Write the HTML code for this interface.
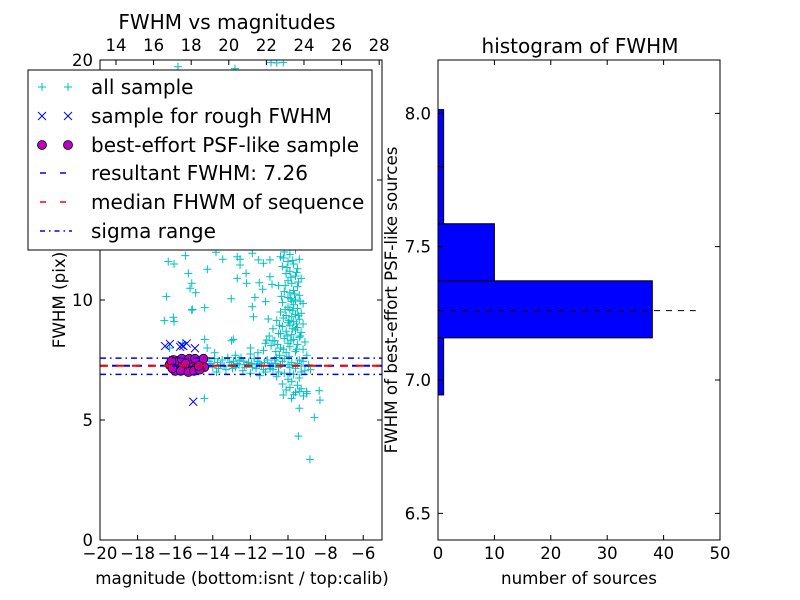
<!DOCTYPE html>
<html><head><meta charset="utf-8"><style>
body{margin:0;background:#fff;}
svg{display:block;font-family:"DejaVu Sans","Liberation Sans",sans-serif;}
</style></head><body>
<svg id="fig" width="800" height="600" viewBox="0 0 800 600">
<rect width="800" height="600" fill="#fff"/>
<g id="left"></g>
<g id="right"></g>
</svg>
<script>
const allSample=[[-16.37,11.6],[-16.06,11.5],[-15.46,11.85],[-13.83,11.99],[-13.47,11.7],[-16.47,10.14],[-15.3,11.11],[-15.12,10.7],[-15.21,10.49],[-14.91,10.3],[-14.29,11.28],[-15.09,9.61],[-14.43,9.68],[-16.58,9.14],[-16.1,9.28],[-16.06,9.1],[-13.02,10.05],[-12.7,10.9],[-12.23,11.11],[-12.2,10.7],[-12.55,11.46],[-11.76,10.11],[-11.9,9.72],[-11.53,10.72],[-11.35,10.45],[-10.96,10.97],[-10.85,10.65],[-11.19,9.93],[-11.05,9.21],[-12.91,8.36],[-14.43,8.36],[-11.13,8.33],[-11.84,9.3],[-12.55,11.7],[-11.58,11.67],[-11.31,11.53],[-10.96,11.67],[-15.12,9.58],[-12.7,11.8],[-11.9,11.95],
[-15.85,19.72],[-12.82,19.64],[-10.9,19.9],[-10.6,19.88],[-10.25,19.9],
[-10.2,12.0],[-9.9,11.9],[-9.6,12.1],[-10.4,11.8],[-9.4,11.7],[-10.0,11.6],[-9.7,11.5],[-10.3,11.4],[-9.5,11.3],[-9.9,11.2],[-10.1,11.1],[-9.6,11.0],[-9.3,10.9],[-10.0,10.8],[-9.8,10.7],[-10.5,10.6],[-9.5,10.55],[-9.7,10.4],[-10.2,10.35],[-9.9,10.3],[-9.4,10.2],[-10.0,10.1],[-9.6,10.0],[-9.8,9.95],[-10.3,9.9],[-9.2,9.85],[-9.7,9.8],[-10.0,9.7],[-9.5,9.65],[-9.9,9.6],[-10.4,9.5],[-9.3,9.45],[-9.6,9.4],[-10.1,9.35],[-9.8,9.3],[-9.4,9.2],[-10.6,9.15],[-9.7,9.1],[-10.0,9.05],[-9.2,9.0],[-9.9,8.95],[-10.3,8.9],[-9.5,8.85],[-10.8,8.8],[-9.6,8.75],[-10.1,8.7],[-9.3,8.65],[-10.5,8.6],[-9.8,8.55],[-11.0,8.5],[-9.4,8.45],[-10.2,8.4],[-9.7,8.35],[-10.7,8.3],[-9.1,8.25],[-10.0,8.2],[-9.5,8.15],[-10.9,8.1],[-9.9,8.05],[-10.4,8.0],[-9.2,7.95],[-11.3,7.9],[-9.6,7.85],[-10.1,7.8],[-12.0,7.75],[-9.0,7.7],[-10.6,7.6],[-11.8,7.55],[-9.4,7.5],[-12.6,7.5],[-10.3,7.45],[-13.1,7.4],[-9.8,7.4],[-11.5,7.35],[-12.2,7.3],[-13.6,7.3],[-10.0,7.3],[-9.3,7.25],[-11.0,7.25],[-12.8,7.2],[-14.0,7.2],[-10.5,7.2],[-9.6,7.15],[-11.7,7.15],[-13.3,7.1],[-10.8,7.1],[-12.4,7.05],[-9.1,7.05],[-11.2,7.0],[-13.8,7.0],[-10.2,6.95],[-12.0,6.95],[-9.7,6.9],[-11.5,6.85],[-10.6,6.8],[-9.4,6.75],[-10.0,6.7],[-9.8,6.6],[-10.3,6.5],[-9.5,6.45],[-9.9,6.35],[-9.3,6.3],[-10.1,6.25],[-9.6,6.15],[-9.0,6.1],[-9.7,6.05],[-9.4,6.2],
[-14.4,7.6],[-14.2,7.45],[-13.9,7.55],[-13.5,7.5],[-13.2,7.6],[-12.9,7.45],[-12.5,7.6],[-12.1,7.4],[-11.9,7.2],[-11.6,7.45],[-11.3,7.1],[-11.1,7.5],[-10.9,7.35],[-10.7,7.5],[-10.4,7.3],[-10.2,7.55],[-9.9,7.2],[-9.5,7.35],[-9.2,7.45],[-8.9,7.3],[-8.8,7.1],[-14.1,7.35],[-13.7,7.15],[-13.0,7.3],[-12.7,7.35],[-12.3,7.2],[-11.4,7.25],[-10.8,7.25],[-14.3,8.0],[-13.0,8.3],[-12.0,8.0],[-11.2,8.2],[-10.4,8.6],[-10.8,8.3],
[-13.75,7.4],[-13.4,7.25],[-12.95,7.15],[-12.6,7.3],[-12.35,7.45],[-11.95,7.35],[-11.65,7.3],[-11.25,7.4],[-10.95,7.15],[-10.65,7.35],[-13.9,7.8],[-12.8,7.7],[-11.6,7.8],[-10.5,7.0],[-9.9,6.95],[-9.3,7.0],
[-10.25,11.75],[-9.75,11.65],[-10.05,11.35],[-9.55,11.15],[-9.85,10.95],[-10.15,10.6],[-9.45,10.75],[-9.65,10.25],[-10.35,10.15],[-9.85,10.05],[-9.35,9.95],[-10.15,9.6],[-9.75,9.55],[-9.45,9.35],[-10.25,9.25],[-9.95,9.15],[-9.55,9.0],[-10.45,8.95],[-9.75,8.8],[-10.05,8.5],[-9.35,8.5],[-10.55,8.15],[-9.85,8.3],[-10.25,7.95],[-9.55,7.95],[-10.65,7.85],[-9.95,7.65],[-10.45,7.7],
[-10.25,6.04],[-9.81,5.9],[-9.4,5.49],[-8.6,5.11],[-9.45,4.33],[-8.83,3.36],[-8.34,6.22],[-8.3,5.83],[-9.18,6.0],[-9.01,6.18],[-14.45,5.9],[-16.3,8.0],[-15.6,8.2]];
const roughSample=[[-16.28,8.17],[-15.66,8.12],[-15.39,8.19],[-14.95,7.99],[-16.54,8.08],[-15.74,8.05],[-15.04,5.76],[-15.57,8.08],[-16.1,7.5],[-15.5,7.3],[-15.0,7.2],[-14.6,7.4]];
const bestSample=[[-16.3,7.3],[-16.1,7.5],[-15.9,7.2],[-15.8,7.45],[-15.6,7.3],[-15.5,7.1],[-15.4,7.5],[-15.2,7.25],[-15.1,7.4],[-14.9,7.15],[-14.8,7.45],[-14.6,7.3],[-14.5,7.55],[-14.45,7.2],[-16.0,7.05],[-15.7,7.05],[-15.3,7.0],[-15.0,7.05],[-14.7,7.1],[-16.2,7.45],[-15.65,7.55],[-15.25,7.55],[-14.95,7.55],[-16.15,7.15],[-15.45,7.35],[-14.75,7.25]];
const resultFwhm=7.26, medianFwhm=7.26, sigmaLow=6.9, sigmaHigh=7.58;
const histEdges=[6.944,7.158,7.372,7.586,7.8,8.014];
const histCounts=[1,38,10,1,1];
const bottomTicks=[-20,-18,-16,-14,-12,-10,-8,-6];
const topTicks=[14,16,18,20,22,24,26,28];
const leftYTicks=[0,5,10,15,20];
const histXTicks=[0,10,20,30,40,50];
const histYTicks=[6.5,7.0,7.5,8.0];

const NS="http://www.w3.org/2000/svg";
function mk(parent,tag,attrs,name,text){const e=document.createElementNS(NS,tag);for(const k in attrs)e.setAttribute(k,attrs[k]);


if(text!==undefined)e.textContent=text;parent.appendChild(e);return e;}
const L=document.getElementById('left'),R=document.getElementById('right');
const xS=m=>100+(m+20)*18.8, xT=c=>100+(c-13.15)*18.8, yL=f=>540-f*24;
const xR=n=>438+n*5.64, yR=v=>380-(v-7.0)*266.67;
const defs=mk(document.getElementById('fig'),'defs',{},'defs');
const cp=mk(defs,'clipPath',{id:'cl'},'clip');mk(cp,'rect',{x:100,y:60,width:282,height:480},'clip-rect');
const P=mk(L,'g',{'clip-path':'url(#cl)'},'scatter-plot-area');
allSample.forEach(p=>{const x=xS(p[0]),y=yL(p[1]);mk(P,'path',{d:`M${x-4},${y}H${x+4}M${x},${y-4}V${y+4}`,stroke:'#00bfbf','stroke-width':1,fill:'none'},'all-sample-point');});
roughSample.forEach(p=>{const x=xS(p[0]),y=yL(p[1]);mk(P,'path',{d:`M${x-4},${y-4}L${x+4},${y+4}M${x-4},${y+4}L${x+4},${y-4}`,stroke:'#0000ff','stroke-width':1,fill:'none'},'rough-sample-point');});
bestSample.forEach(p=>{mk(P,'circle',{cx:xS(p[0]),cy:yL(p[1]),r:4.5,fill:'#bf00bf',stroke:'#000','stroke-width':0.8},'best-sample-point');});
mk(P,'line',{x1:100,x2:382,y1:yL(resultFwhm),y2:yL(resultFwhm),stroke:'#0000ff','stroke-width':2,'stroke-dasharray':'6,6'},'resultant-fwhm-line');
mk(P,'line',{x1:100,x2:382,y1:yL(medianFwhm),y2:yL(medianFwhm),stroke:'#ff0000','stroke-width':2,'stroke-dasharray':'8,8'},'median-fwhm-line');
[sigmaLow,sigmaHigh].forEach(v=>mk(P,'line',{x1:100,x2:382,y1:yL(v),y2:yL(v),stroke:'#0000ff','stroke-width':1.5,'stroke-dasharray':'6,4,1.5,4'},'sigma-range-line'));
mk(L,'rect',{x:100,y:60,width:282,height:480,fill:'none',stroke:'#000','stroke-width':1},'scatter-frame');
bottomTicks.forEach(t=>{const x=xS(t);mk(L,'path',{d:`M${x},540v-5`,stroke:'#000'},'x-tick');
mk(L,'text',{x:x,y:559,'font-size':16.5,'text-anchor':'middle'},'x-tick-label',(t<0?'\u2212':'')+Math.abs(t));});
topTicks.forEach(t=>{const x=xT(t);mk(L,'path',{d:`M${x},60v5`,stroke:'#000'},'top-tick');
mk(L,'text',{x:x,y:51,'font-size':16.5,'text-anchor':'middle'},'top-tick-label',t);});
leftYTicks.forEach(t=>{const y=yL(t);mk(L,'path',{d:`M100,${y}h5M382,${y}h-5`,stroke:'#000'},'y-tick');
mk(L,'text',{x:93,y:y+6,'font-size':16.5,'text-anchor':'end'},'y-tick-label',t);});
mk(L,'text',{x:242,y:584,'font-size':16.7,'text-anchor':'middle'},'x-axis-title','magnitude (bottom:isnt / top:calib)');
mk(L,'text',{x:65,y:300,'font-size':16.7,'text-anchor':'middle',transform:'rotate(-90 65 300)'},'y-axis-title','FWHM (pix)');
mk(L,'text',{x:227,y:29,'font-size':20,'text-anchor':'middle'},'scatter-title','FWHM vs magnitudes');
const G=mk(L,'g',{},'legend');
mk(G,'rect',{x:28,y:70,width:344,height:180,fill:'#fff',stroke:'#000','stroke-width':1},'legend-box');
const rows=[87,116,145,173,202,231];
const labels=['all sample','sample for rough FWHM','best-effort PSF-like sample','resultant FWHM: 7.26','median FHWM of sequence','sigma range'];
rows.forEach((y,i)=>{
 if(i==0)[42,68].forEach(x=>mk(G,'path',{d:`M${x-4},${y}H${x+4}M${x},${y-4}V${y+4}`,stroke:'#00bfbf'},'legend-marker'));
 if(i==1)[42,68].forEach(x=>mk(G,'path',{d:`M${x-4},${y-4}L${x+4},${y+4}M${x-4},${y+4}L${x+4},${y-4}`,stroke:'#0000ff'},'legend-marker'));
 if(i==2)[42,68].forEach(x=>mk(G,'circle',{cx:x,cy:y,r:4.5,fill:'#bf00bf',stroke:'#000','stroke-width':0.8},'legend-marker'));
 if(i==3)mk(G,'line',{x1:40,x2:72,y1:y,y2:y,stroke:'#0000ff','stroke-width':1.5,'stroke-dasharray':'6,14'},'legend-line');
 if(i==4)mk(G,'line',{x1:40,x2:72,y1:y,y2:y,stroke:'#ff0000','stroke-width':1.5,'stroke-dasharray':'6,14'},'legend-line');
 if(i==5)mk(G,'line',{x1:40,x2:72,y1:y,y2:y,stroke:'#0000ff','stroke-width':1.5,'stroke-dasharray':'5,4,1.5,4'},'legend-line');
 mk(G,'text',{x:91,y:y+7,'font-size':20},'legend-label',labels[i]);
});
histCounts.forEach((c,i)=>{const y1=yR(histEdges[i+1]),y2=yR(histEdges[i]);
mk(R,'rect',{x:438,y:y1,width:xR(c)-438,height:y2-y1,fill:'#0000ff',stroke:'#000','stroke-width':1},'hist-bar');});
mk(R,'line',{x1:438,x2:xR(45.7),y1:yR(resultFwhm),y2:yR(resultFwhm),stroke:'#000','stroke-width':1,'stroke-dasharray':'6,6'},'hist-fwhm-line');
mk(R,'rect',{x:438,y:60,width:282,height:480,fill:'none',stroke:'#000'},'hist-frame');
histXTicks.forEach(t=>{const x=xR(t);mk(R,'path',{d:`M${x},540v-5M${x},60v5`,stroke:'#000'},'hist-x-tick');
mk(R,'text',{x:x,y:559,'font-size':16.5,'text-anchor':'middle'},'hist-x-tick-label',t);});
histYTicks.forEach(t=>{const y=yR(t);mk(R,'path',{d:`M438,${y}h5M720,${y}h-5`,stroke:'#000'},'hist-y-tick');
mk(R,'text',{x:431,y:y+6,'font-size':16.5,'text-anchor':'end'},'hist-y-tick-label',t.toFixed(1));});
mk(R,'text',{x:579,y:584,'font-size':16.7,'text-anchor':'middle'},'hist-x-axis-title','number of sources');
mk(R,'text',{x:397,y:300,'font-size':16.7,'text-anchor':'middle',transform:'rotate(-90 397 300)'},'hist-y-axis-title','FWHM of best-effort PSF-like sources');
mk(R,'text',{x:580,y:53,'font-size':20,'text-anchor':'middle'},'hist-title','histogram of FWHM');
</script>
</body></html>
